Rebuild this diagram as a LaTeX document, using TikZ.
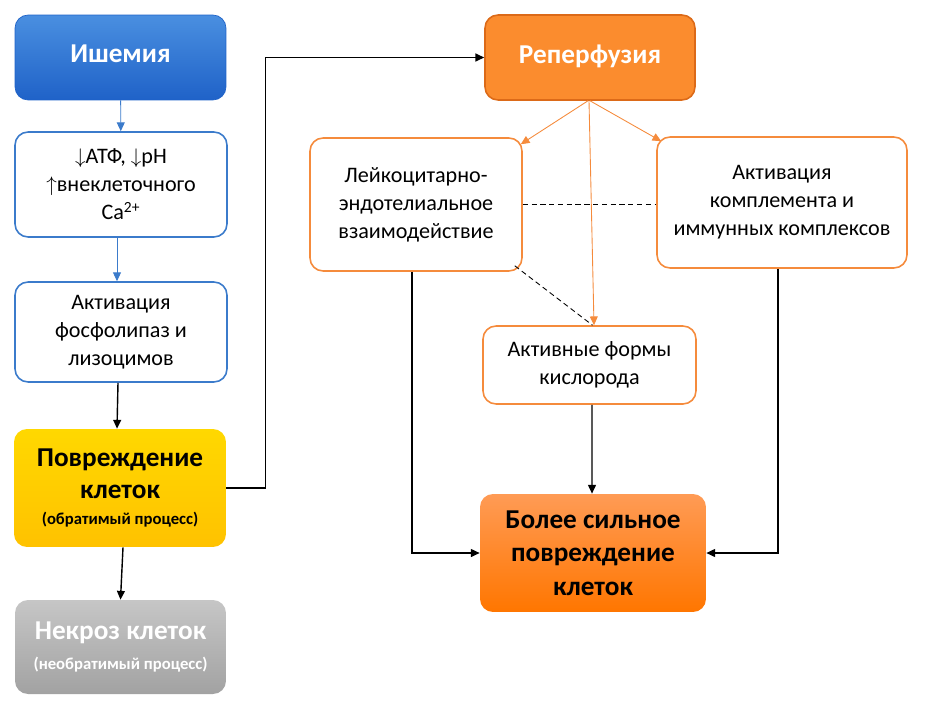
\documentclass[tikz,border=0pt]{standalone}
\usepackage{fontspec}
\setmainfont{Carlito}
\usetikzlibrary{positioning, arrows.meta}
\definecolor{bluetop}{HTML}{4A8FE0}
\definecolor{bluebot}{HTML}{1F62C8}
\definecolor{blueline}{HTML}{3B7BCB}
\definecolor{orline}{HTML}{F58B3C}
\definecolor{ordark}{HTML}{DC6A18}
\definecolor{orfill}{HTML}{FB8C2E}
\definecolor{goldtop}{HTML}{FFD800}
\definecolor{goldbot}{HTML}{FFC200}
\definecolor{graytop}{HTML}{C6C6C6}
\definecolor{graybot}{HTML}{A2A2A2}
\definecolor{hottop}{HTML}{FF9B55}
\definecolor{hotbot}{HTML}{FF7600}
\tikzset{
>={Triangle[length=5pt,width=4.5pt]}, % small filled heads
box/.style={rounded corners=0.26cm, align=center, inner sep=2pt,
  font=\fontsize{12.6}{16}\selectfont}, % common look of all boxes
title/.style={font=\fontsize{15.5}{20}\selectfont\bfseries},
bluebox/.style={box, draw=blueline, line width=0.9pt, fill=white},
orbox/.style={box, draw=orline, line width=0.9pt, fill=white},
bluelink/.style={->, draw=blueline, line width=0.5pt},
orlink/.style={->, draw=orline, line width=0.5pt},
blacklink/.style={->, line width=0.8pt},
dashlink/.style={line width=0.5pt, dash pattern=on 3pt off 2pt},
}
\newcommand{\bigline}[1]{{\fontsize{15.5}{19}\selectfont\bfseries #1}}
\newcommand{\smallline}[1]{{\fontsize{9.5}{12}\selectfont\bfseries #1}}
\begin{document}
\begin{tikzpicture}[x=0.02cm, y=-0.02cm]
    \useasboundingbox (0,0) rectangle (926,710);

    % left column
    \node[box, title, text=white, draw=bluebot, top color=bluetop, bottom color=bluebot,
          minimum width=4.22cm, minimum height=1.7cm] (ishemia) at (120.5,57.5) {\raisebox{4pt}{Ишемия}};
    \node[bluebox, minimum width=4.24cm, minimum height=2.1cm] (atf) at (121,184.5)
          {$\downarrow$АТФ, $\downarrow$pH\\$\uparrow$внеклеточного\\Ca\textsuperscript{2+}};
    \node[bluebox, minimum width=4.24cm, minimum height=2.0cm] (fosfo) at (121,332)
          {Активация\\фосфолипаз и\\лизоцимов};
    \node[box, draw=none, top color=goldtop, bottom color=goldbot,
          minimum width=4.24cm, minimum height=2.36cm] (povr) at (120,488)
          {\bigline{Повреждение}\\[2pt]\bigline{клеток}\\[-1pt]\smallline{(обратимый процесс)}};
    \node[box, draw=none, text=white, top color=graytop, bottom color=graybot,
          minimum width=4.22cm, minimum height=1.88cm] (nekroz) at (120.5,647)
          {\bigline{Некроз клеток}\\[1pt]\smallline{(необратимый процесс)}};

    % right part
    \node[box, title, text=white, draw=ordark, line width=0.9pt, fill=orfill,
          minimum width=4.2cm, minimum height=1.7cm] (reperf) at (590,57.5) {\raisebox{4pt}{Реперфузия}};
    \node[orbox, minimum width=4.24cm, minimum height=2.66cm] (leuko) at (416,204.5)
          {Лейкоцитарно-\\эндотелиальное\\взаимодействие};
    \node[orbox, minimum width=5.0cm, minimum height=2.62cm] (kompl) at (782,202.5)
          {Активация\\комплемента и\\иммунных комплексов};
    \node[orbox, minimum width=4.26cm, minimum height=1.56cm] (afk) at (589.5,365)
          {Активные формы\\кислорода};
    \node[box, draw=none, top color=hottop, bottom color=hotbot,
          minimum width=4.52cm, minimum height=2.36cm] (bolee) at (593,553)
          {\bigline{Более сильное}\\[3pt]\bigline{повреждение}\\[3pt]\bigline{клеток}};

    % links
    \draw[bluelink] (ishemia) -- (atf);
    \draw[bluelink] ([xshift=-0.08cm]atf.south) -- ([xshift=-0.08cm]fosfo.north);
    \draw[blacklink] ([xshift=-0.06cm]fosfo.south) -- ([xshift=-0.06cm]povr.north);
    \draw[blacklink] ([xshift=0.06cm]povr.south) -- (nekroz.north);
    \draw[blacklink] (povr.east) -- ++(39,0) |- (reperf.west);

    \draw[orlink] ([xshift=-0.04cm]reperf.south) -- ([shift={(-2,7)}]leuko.north east);
    \draw[orlink] (reperf.south) -- ([shift={(5,5)}]kompl.north west);
    \draw[orlink] ([xshift=-0.02cm]reperf.south) -- ([xshift=0.09cm]afk.north);
    \draw[dashlink] (leuko.east) -- (leuko.east -| kompl.west);
    \draw[dashlink] ([shift={(-8,-6)}]leuko.south east) -- ([xshift=0.06cm]afk.north);

    \draw[blacklink] ([xshift=-0.08cm]leuko.south) |- (bolee.west);
    \draw[blacklink] ([xshift=-0.08cm]kompl.south) |- (bolee.east);
    \draw[blacklink] ([xshift=0.05cm]afk.south) -- ([xshift=-0.02cm]bolee.north);
\end{tikzpicture}
\end{document}
